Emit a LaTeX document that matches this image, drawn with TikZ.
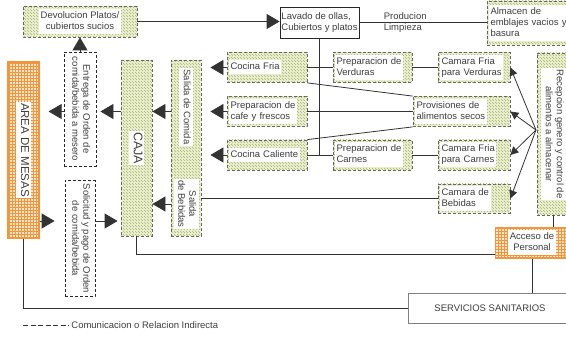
\documentclass[tikz,border=0pt]{standalone}
\usepackage{fontspec}
\setmainfont{Liberation Sans}
\usepackage{xcolor}
\definecolor{hatchbg}{RGB}{236,240,210}
\definecolor{hatchln}{RGB}{168,182,112}
\definecolor{gridbg}{RGB}{252,228,200}
\definecolor{gridln}{RGB}{242,150,62}
\definecolor{txt}{RGB}{62,62,62}
\usepackage{tikz}
\usetikzlibrary{patterns}
\usetikzlibrary{arrows.meta}
\setlength{\fboxsep}{1.5pt}
\newcommand{\wbox}[1]{\noindent\colorbox{white}{\begin{tabular}{@{}l@{}}#1\end{tabular}}}
\newcommand{\wboxc}[1]{\colorbox{white}{\begin{tabular}{@{}c@{}}#1\end{tabular}}}
\newcommand{\vtext}[1]{\rotatebox{-90}{\wboxc{#1}}}
\tikzset{
  hatchbox/.style={draw=black!60, densely dashed, preaction={fill=hatchbg}, pattern=north west lines, pattern color=hatchln},
  hbox/.style={hatchbox, minimum height=30pt, text width=#1, align=left},
  gridbox/.style={draw=gridln, line width=1.2pt, preaction={fill=gridbg}, pattern=grid, pattern color=gridln},
  dbox/.style={draw=black!85, densely dashed, fill=white},
  bigarr/.style={-{Triangle[length=13pt,width=15pt]}},
  smallarr/.style={-{Triangle[length=8pt,width=8pt]}}
}
\begin{document}
\begin{tikzpicture}[x=1pt,y=-1pt,line width=0.8pt,color=black!80,
  every node/.style={font=\fontsize{9.5}{11}\selectfont, text=txt, inner sep=2pt}]
\useasboundingbox (0,0) rectangle (566,339);
% fila superior
\node[hatchbox, minimum width=114pt, minimum height=31pt] (devol) at (80,21.5) {\wboxc{Devolucion Platos/\\cubiertos sucios}};
\node[draw=black!85, fill=white, align=left, minimum width=79pt, minimum height=31pt, inner xsep=0.5pt] (lavado) at (319.5,22.5) {Lavado de ollas,\\Cubiertos y platos};
\node[hatchbox, text width=79pt, align=left, minimum height=44pt] (almacen) at (528.5,23) {\wbox{Almacen de\\emblajes vacios y\\basura}};
% columnas verticales
\node[gridbox, minimum width=31pt, minimum height=176pt] (mesas) at (23.5,150) {\vtext{\fontsize{11.5}{14}\selectfont AREA DE MESAS}};
\node[dbox, minimum width=32pt, minimum height=114pt] (entrega) at (80,109) {\vtext{Entrega de Orden de\\comida/bebida a mesero}};
\node[dbox, minimum width=30pt, minimum height=113pt] (solic) at (80,238.5) {\vtext{Solicitud y pago de Orden\\de comida/bebida}};
\node[hatchbox, minimum width=31pt, minimum height=176pt] (caja) at (136.5,148) {\vtext{\fontsize{12.5}{14}\selectfont CAJA}};
\node[hatchbox, minimum width=30pt, minimum height=176pt] (salida) at (186,148) {};
\node (salcom) at (186,107) {\vtext{Salida de Comida}};
\node (salbeb) at (186,204) {\vtext{Salida\\de Bebidas}};
% cocina
\node[hbox=76pt] (cfria) at (267,67.5) {\wbox{Cocina Fria}};
\node[hbox=76pt] (cafe) at (267,111.5) {\wbox{Preparacion de\\cafe y frescos}};
\node[hbox=76pt] (ccal) at (267,155) {\wbox{Cocina Caliente}};
\node[hbox=75pt] (pverd) at (372.5,67.5) {\wbox{Preparacion de\\Verduras}};
\node[hbox=75pt] (pcarn) at (372.5,155) {\wbox{Preparacion de\\Carnes}};
\node[hbox=68pt] (cfverd) at (474,67.5) {\wbox{Camara Fria\\para Verduras}};
\node[hbox=68pt] (cfcarn) at (474,155) {\wbox{Camara Fria\\para Carnes}};
\node[hbox=93pt] (provis) at (461.5,111.5) {\wbox{Provisiones de\\alimentos secos}};
\node[hbox=68pt, minimum height=29pt] (cbeb) at (474,198.5) {\wbox{Camara de\\Bebidas}};
% lado derecho
\node[hatchbox, minimum width=33pt, minimum height=162pt] (recep) at (553.5,134) {\vtext{Recepcion genero y control de\\alimentos a almacenar}};
\node[gridbox, minimum width=73pt, minimum height=30pt] (acceso) at (532,243) {\wboxc{Acceso de\\Personal}};
\node[draw=black!50, fill=white, minimum width=164pt, minimum height=30pt] (serv) at (490,308) {SERVICIOS SANITARIOS};

% conexiones
\draw[bigarr] (devol.east) -- (devol.east -| lavado.west);
\draw (lavado.east) -- (lavado.east -| almacen.west) node[pos=0.36, align=left] {Producion\\Limpieza};
\draw (lavado.south) -- (lavado.south |- ccal.east);
\draw (cfria) -- (pverd);
\draw (ccal) -- (pcarn);
\draw (pverd) -- (cfverd);
\draw (pcarn) -- (cfcarn);
\draw (cafe) -- (provis);
\draw (cfria.south east) -- (provis.north west);
\draw (ccal.north east) -- (provis.south west);
\draw[bigarr, shorten >=9pt] (cfria.west) -- (cfria.west -| salida.east);
\draw[bigarr, shorten >=9pt] (cafe.west) -- (cafe.west -| salida.east);
\draw[bigarr, shorten >=9pt] (ccal.west) -- (ccal.west -| salida.east);
\draw (cbeb.west) -- (cbeb.west -| salida.east);
\draw[bigarr] (salida.west |- cafe) -- (caja.east |- cafe);
\draw[bigarr] (salida.west |- salbeb) -- (caja.east |- salbeb);
\draw[bigarr, shorten >=4pt] (caja.west |- cafe) -- (entrega.east |- cafe);
\draw[bigarr, shorten >=9pt] (entrega.west |- cafe) -- (mesas.east |- cafe);
\draw[bigarr] (entrega.north) -- (devol.south);
\coordinate (pedido) at (80,221);
\draw[bigarr, shorten >=10pt] (mesas.east |- pedido) -- (solic.west |- pedido);
\draw[bigarr, shorten >=3pt] (solic.east |- pedido) -- (caja.west |- pedido);
\coordinate (acc) at (532,254);
\draw (caja.south) |- (acc -| acceso.west);
\draw (recep.south) -- (recep.south |- acceso.north);
\draw (acceso.south) -- (acceso.south |- serv.north);
\draw (mesas.south) |- (serv.west);
\coordinate (fan) at (536,130);
\foreach \n in {cfverd,provis,cfcarn,cbeb}
  \draw[smallarr] (fan) -- (\n.east);

% leyenda
\node[anchor=west] (legend) at (69,325) {Comunicacion o Relacion Indirecta};
\coordinate (legstart) at (23,325);
\draw[dash pattern=on 5pt off 2.5pt] (legstart) -- (legend.west);
\end{tikzpicture}
\end{document}
